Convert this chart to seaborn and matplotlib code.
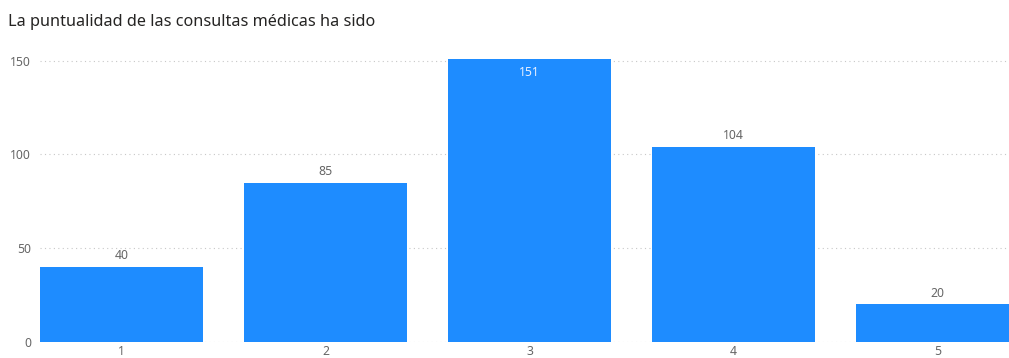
import matplotlib
matplotlib.use("Agg")
import matplotlib.pyplot as plt
import seaborn as sns
import pandas as pd

# data
categories = ["1", "2", "3", "4", "5"]
counts = [40, 85, 151, 104, 20]
title = "La puntualidad de las consultas médicas ha sido"

BAR_COLOR = "#1E8CFF"
TEXT_GRAY = "#666666"

sns.set_style("white")
plt.rcParams["font.family"] = ["Noto Sans", "DejaVu Sans"]

df = pd.DataFrame({"cat": categories, "n": counts})

fig = plt.figure(figsize=(10.09, 3.58), dpi=100)
ax = fig.add_axes([40 / 1009, 16 / 358, 1 - 40 / 1009, (342 - 55) / 358])

sns.barplot(data=df, x="cat", y="n", color=BAR_COLOR, saturation=1,
            width=0.8, linewidth=0, ax=ax, zorder=2)

ax.set_xlim(-0.4, 4.35)
ax.set_ylim(0, 153)
ax.set_yticks([0, 50, 100, 150])
ax.yaxis.grid(True, linestyle=(0, (1, 3)), color="#C8C8C8", linewidth=0.8, zorder=0)
ax.set_axisbelow(True)
for s in ax.spines.values():
    s.set_visible(False)
ax.set_xlabel("")
ax.set_ylabel("")
ax.tick_params(axis="both", length=0, labelsize=8.8, labelcolor=TEXT_GRAY)
ax.tick_params(axis="x", pad=2)
ax.tick_params(axis="y", pad=6.5)

# value labels: above bars, inside the tallest one
ymax = max(counts)
for i, v in enumerate(counts):
    if v == ymax:
        ax.annotate(str(v), (i, v), xytext=(0, -10), textcoords="offset points",
                    ha="center", va="center", fontsize=8.8, color="#E8F0FF")
    else:
        ax.annotate(str(v), (i, v), xytext=(0, 8), textcoords="offset points",
                    ha="center", va="center", fontsize=8.8, color=TEXT_GRAY)

fig.text(8 / 1009, 1 - 22 / 358, title, fontsize=11.7, color="#252423",
         ha="left", va="center")

fig.savefig("out.png", dpi=100)
